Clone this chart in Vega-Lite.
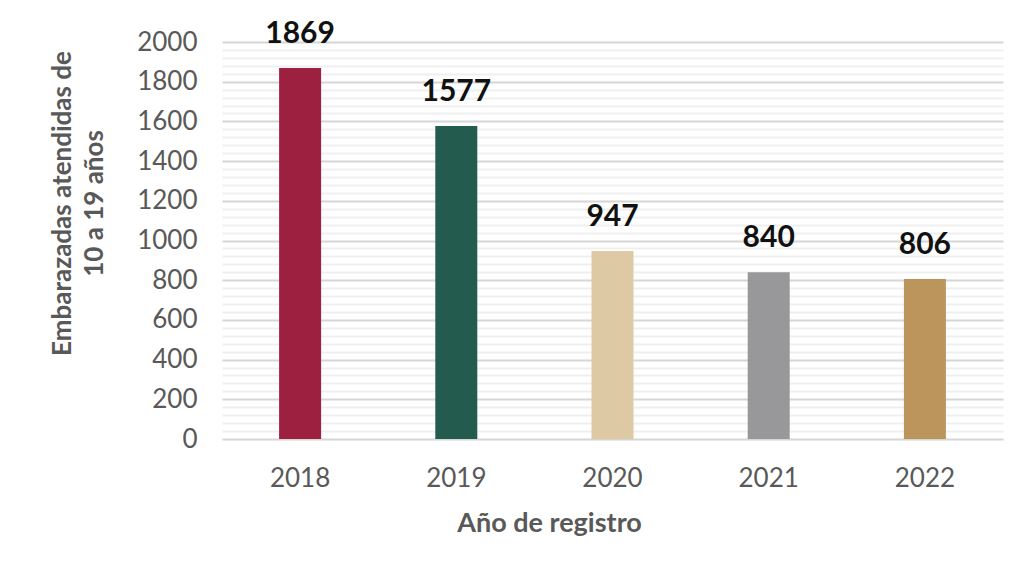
{
  "$schema": "https://vega.github.io/schema/vega-lite/v6.json",
  "autosize": "none",
  "width": 781,
  "height": 397,
  "padding": {"left": 222, "top": 42, "right": 25, "bottom": 136},
  "background": "white",
  "config": {"view": {"stroke": null}, "font": "Lato"},
  "data": {"values": [
    {"anio": "2018", "casos": 1869},
    {"anio": "2019", "casos": 1577},
    {"anio": "2020", "casos": 947},
    {"anio": "2021", "casos": 840},
    {"anio": "2022", "casos": 806}
  ]},
  "encoding": {
    "x": {"field": "anio", "type": "ordinal", "sort": null,
      "scale": {"paddingInner": 0, "paddingOuter": 0},
      "axis": {"title": "Año de registro", "labelAngle": 0, "labelFontSize": 26, "labelColor": "#595959", "labelFont": "Lato",
        "labelPadding": 26, "ticks": false, "domain": false, "grid": false,
        "titleFontSize": 27, "titleFontWeight": "bold", "titleColor": "#595959", "titleFont": "Lato",
        "titleX": 327, "titleY": 84, "titleAlign": "center", "titleBaseline": "middle"}},
    "y": {"field": "casos", "type": "quantitative",
      "scale": {"domain": [0, 2000], "nice": false},
      "axis": {"title": ["Embarazadas atendidas de", "10 a 19 años"],
        "values": [0,40,80,120,160,200,240,280,320,360,400,440,480,520,560,600,640,680,720,760,800,840,880,920,960,1000,1040,1080,1120,1160,1200,1240,1280,1320,1360,1400,1440,1480,1520,1560,1600,1640,1680,1720,1760,1800,1840,1880,1920,1960,2000],
        "labelExpr": "datum.value % 200 === 0 ? datum.label : ''",
        "format": "d",
        "labelFontSize": 26, "labelColor": "#595959", "labelFont": "Lato", "labelPadding": 25,
        "ticks": false, "domain": false,
        "gridColor": {"condition": {"test": "datum.value % 200 === 0", "value": "#d6d6d6"}, "value": "#efefef"},
        "gridWidth": 2,
        "titleFontSize": 26, "titleFontWeight": "bold", "titleColor": "#595959", "titleFont": "Lato",
        "titleAngle": -90, "titleX": -160, "titleY": 161, "titleAlign": "center", "titleBaseline": "middle", "titleLineHeight": 32}}
  },
  "layer": [
    {"mark": {"type": "bar", "size": 42},
     "encoding": {"color": {"field": "anio", "type": "nominal", "legend": null,
       "scale": {"domain": ["2018","2019","2020","2021","2022"], "range": ["#9D2040", "#235B4E", "#DDC9A3", "#98989A", "#BC955C"]}}}},
    {"mark": {"type": "text", "dy": -34, "fontSize": 30, "fontWeight": "bold", "color": "#111111", "baseline": "middle", "font": "Lato"},
     "encoding": {"text": {"field": "casos", "type": "quantitative"}}}
  ]
}
